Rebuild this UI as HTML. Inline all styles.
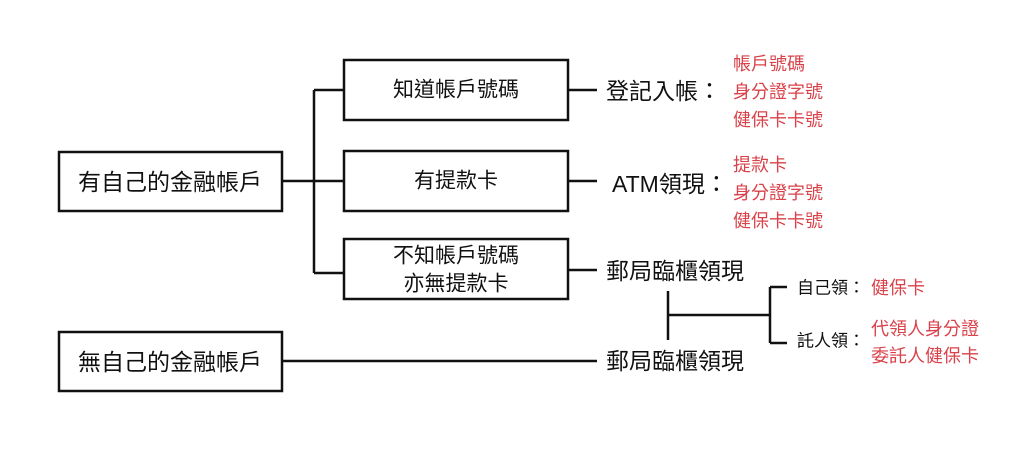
<!DOCTYPE html>
<html><head><meta charset="utf-8"><style>
html,body{margin:0;padding:0;background:#fff;}
svg{display:block;}
text{font-family:"Liberation Sans","Noto Sans CJK TC",sans-serif;}
.b{font-size:23px;fill:#111;}
.m{font-size:21px;fill:#111;}
.r{font-size:18px;fill:#d9424a;}
.s{font-size:17px;fill:#111;}
</style></head><body>
<svg width="1024" height="454" viewBox="0 0 1024 454">
<g fill="none" stroke="#111" stroke-width="2.5">
<rect x="59" y="152" width="223" height="59"/>
<rect x="59" y="332" width="223" height="59"/>
<rect x="344" y="60" width="224" height="60"/>
<rect x="344" y="151" width="224" height="60"/>
<rect x="344" y="239" width="224" height="60"/>
<path d="M282 181H344M314 90V273M314 90H344M314 273H344"/>
<path d="M568 90H597M568 181H597M568 270H597M282 361H597"/>
<path d="M668 291V340M668 315H770M770 287V343M770 287H787M770 343H787"/>
</g>
<g text-anchor="middle" dominant-baseline="central">
<text class="b" x="170" y="182">有自己的金融帳戶</text>
<text class="b" x="170" y="362">無自己的金融帳戶</text>
<text class="m" x="456" y="90">知道帳戶號碼</text>
<text class="m" x="456" y="181">有提款卡</text>
<text class="m" x="456" y="256">不知帳戶號碼</text>
<text class="m" x="456" y="284">亦無提款卡</text>
</g>
<g dominant-baseline="central">
<text class="b" x="606" y="91">登記入帳：</text>
<text class="b" x="612" y="184">ATM領現：</text>
<text class="b" x="606" y="271">郵局臨櫃領現</text>
<text class="b" x="606" y="361">郵局臨櫃領現</text>
<text class="r" x="733" y="64">帳戶號碼</text>
<text class="r" x="733" y="92">身分證字號</text>
<text class="r" x="733" y="120">健保卡卡號</text>
<text class="r" x="733" y="165">提款卡</text>
<text class="r" x="733" y="193">身分證字號</text>
<text class="r" x="733" y="221">健保卡卡號</text>
<text class="s" x="797" y="288">自己領：</text><text class="r" x="871" y="288">健保卡</text>
<text class="s" x="797" y="341">託人領：</text>
<text class="r" x="871" y="329">代領人身分證</text>
<text class="r" x="871" y="356">委託人健保卡</text>
</g>
</svg>
</body></html>
